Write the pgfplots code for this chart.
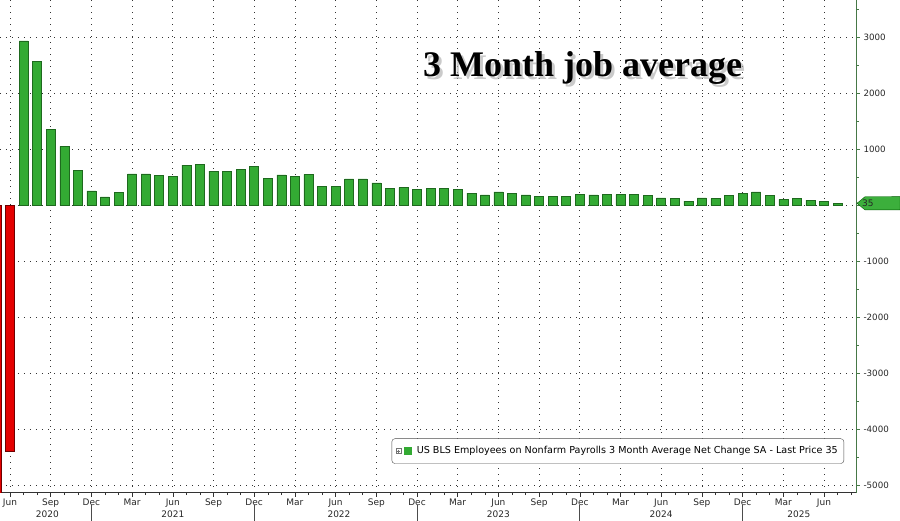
\documentclass[border=0pt]{standalone}
\usepackage{pgfplots}
\pgfplotsset{compat=1.18}
\usepackage{pgfplotstable}
\usepackage{fontspec}
\setmainfont{DejaVu Sans}
\newfontfamily\titlefont{Liberation Serif}
\definecolor{bargreen}{RGB}{51,170,51}
\definecolor{bargreenedge}{RGB}{30,105,30}
\definecolor{barred}{RGB}{228,0,0}
\definecolor{barrededge}{RGB}{110,0,0}
\definecolor{axisgreen}{RGB}{70,120,70}
\definecolor{taggreen}{RGB}{60,175,60}

\pgfplotstableread{
idx val
-1 -6400
0 -4390
}\reddata

\pgfplotstableread{
idx val
1 2930
2 2570
3 1355
4 1050
5 625
6 255
7 150
8 230
9 560
10 560
11 530
12 510
13 715
14 730
15 610
16 600
17 645
18 690
19 475
20 540
21 515
22 550
23 340
24 340
25 470
26 470
27 400
28 295
29 315
30 285
31 295
32 295
33 285
34 215
35 185
36 240
37 215
38 185
39 155
40 165
41 165
42 195
43 185
44 200
45 190
46 190
47 180
48 130
49 120
50 75
51 130
52 120
53 170
54 215
55 240
56 180
57 105
58 120
59 90
60 65
61 35
}\greendata

\begin{document}
\begin{tikzpicture}[x=1pt,y=1pt]
\useasboundingbox (0,0) rectangle (900,520);
\begin{axis}[
  scale only axis, width=856pt, height=492.7pt,
  at={(0pt,27.3pt)}, anchor=south west,
  xmin=-0.737, xmax=62.36, ymin=-5125, ymax=3660,
  axis x line*=bottom, axis y line*=right,
  axis line style={-},
  x axis line style={black!80, line width=0.6pt},
  y axis line style={axisgreen, line width=0.8pt},
  xtick={0,3,...,60},
  xticklabels={Jun,Sep,Dec,Mar,Jun,Sep,Dec,Mar,Jun,Sep,Dec,Mar,Jun,Sep,Dec,Mar,Jun,Sep,Dec,Mar,Jun},
  minor xtick={-1,0,...,62},
  ytick={-5000,-4000,...,3000},
  yticklabels={-5000,-4000,-3000,-2000,-1000,{},1000,2000,3000},
  minor ytick={-4500,-3500,...,3500},
  tick align=outside,
  major tick length=4pt, minor tick length=2.5pt,
  xtick style={black!80, line width=0.5pt},
  ytick style={axisgreen, line width=0.8pt},
  xticklabel style={font=\fontsize{9}{10}\selectfont, text=black!85, yshift=1.5pt},
  yticklabel style={font=\fontsize{8.7}{10}\selectfont, text=black!85, anchor=west},
  grid=major,
  major grid style={black!80, line width=0.75pt, dash pattern=on 0.8pt off 5.2pt},
  legend style={at={(0.986,0.0589)}, anchor=south east, draw=black!70, rounded corners=3pt,
    font=\fontsize{9.6}{11}\selectfont, inner xsep=4pt, inner ysep=6pt,
    /tikz/every odd column/.append style={column sep=3pt}},
]
\addplot[ybar, bar width=9pt, fill=barred, draw=barrededge, line width=0.5pt, forget plot]
  table[x=idx, y=val] {\reddata};
\addplot[ybar, bar width=9pt, fill=bargreen, draw=bargreenedge, line width=0.5pt,
  legend image code/.code={
    \draw[sharp corners, black!55, line width=0.4pt, fill=white] (0pt,-2.5pt) rectangle (5pt,2.5pt);
    \draw[sharp corners, black!55, line width=0.4pt] (1pt,0pt) -- (4pt,0pt) (2.5pt,-1.5pt) -- (2.5pt,1.5pt);
    \fill[sharp corners, bargreen] (8.5pt,-3.6pt) rectangle (15.5pt,3.9pt);
  }]
  table[x=idx, y=val] {\greendata};
\addlegendentry{US BLS Employees on Nonfarm Payrolls 3 Month Average Net Change SA - Last Price 35}
\coordinate (tagpt) at (axis cs:62.36,35);
\coordinate (yA) at (axis cs:2.75,-5125);
\coordinate (yB) at (axis cs:12,-5125);
\coordinate (yC) at (axis cs:24.25,-5125);
\coordinate (yD) at (axis cs:36,-5125);
\coordinate (yE) at (axis cs:48,-5125);
\coordinate (yF) at (axis cs:58.15,-5125);
\coordinate (sA) at (axis cs:6,-5125);
\coordinate (sB) at (axis cs:18,-5125);
\coordinate (sC) at (axis cs:30,-5125);
\coordinate (sD) at (axis cs:42,-5125);
\coordinate (sE) at (axis cs:54,-5125);
\end{axis}
% year labels and separators
\foreach \c/\t in {yA/2020,yB/2021,yC/2022,yD/2023,yE/2024,yF/2025}{
  \node[anchor=base, font=\fontsize{9}{10}\selectfont, text=black!85, inner sep=0pt] at ([yshift=-24.3pt]\c) {\t};
}
\foreach \c in {sA,sB,sC,sD,sE}{
  \draw[black!70, line width=0.6pt] ([yshift=-12.5pt]\c) -- ([yshift=-28pt]\c);
}
% last price tag
\fill[taggreen, draw=green!35!black, line width=0.4pt] ([xshift=1pt]tagpt) -- ++(8,6.6) -- (900,316.7+6.6) -- (900,316.7-6.6) -- ([xshift=9pt,yshift=-6.6pt]tagpt) -- cycle;
\node[anchor=west, inner sep=0pt, font=\fontsize{9}{10}\selectfont, text=black!85] at ([xshift=6pt]tagpt) {35};
% title with soft shadow
\node[anchor=base, inner sep=0pt, font=\titlefont\bfseries\fontsize{36}{40}\selectfont, text=black!35, opacity=0.6] at (585.5,440.3) {3 Month job average};
\node[anchor=base, inner sep=0pt, font=\titlefont\bfseries\fontsize{36}{40}\selectfont, text=black] at (582.5,443.3) {3 Month job average};
\end{tikzpicture}
\end{document}
